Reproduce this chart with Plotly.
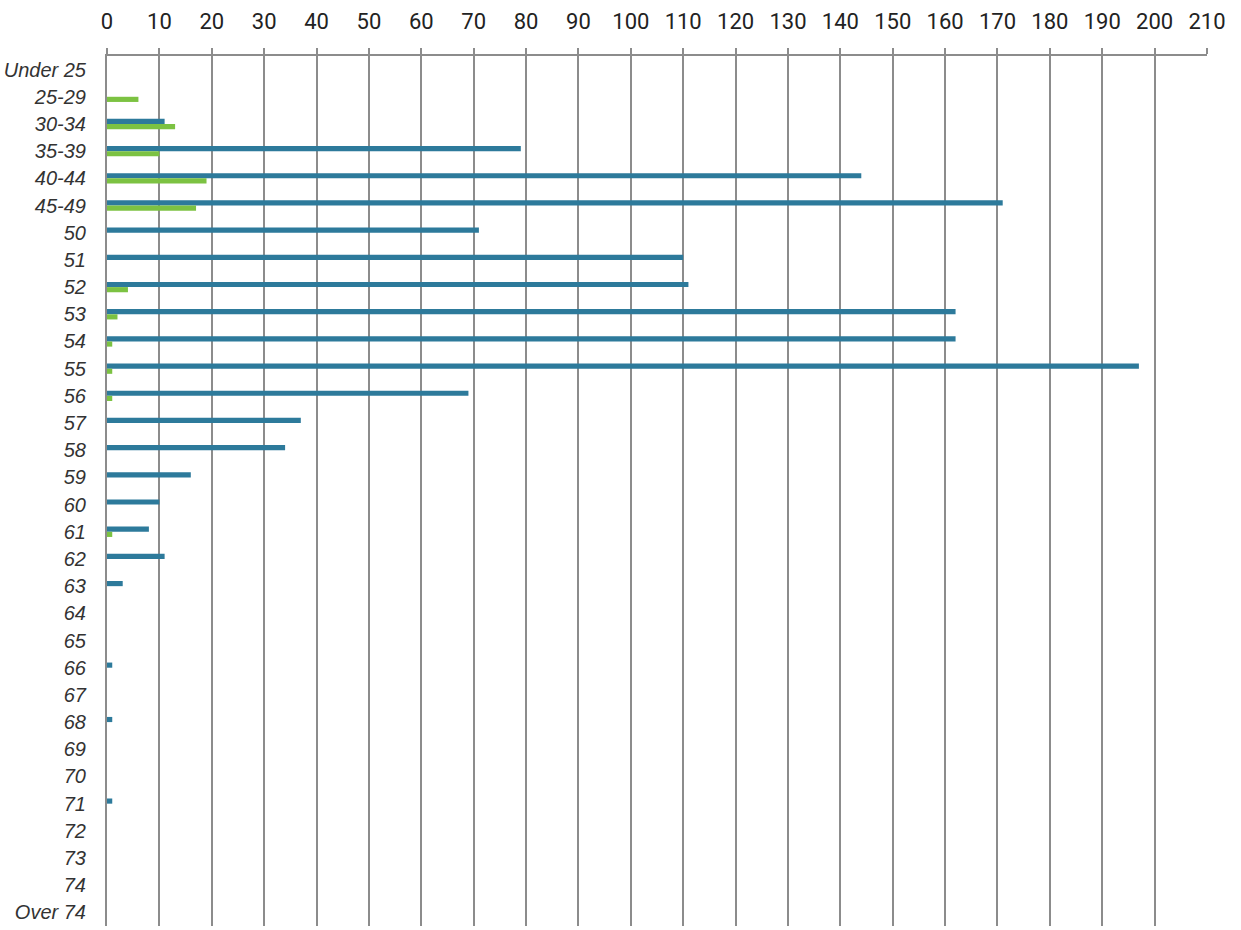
import plotly.graph_objects as go

categories = ["Under 25", "25-29", "30-34", "35-39", "40-44", "45-49", "50", "51", "52", "53",
              "54", "55", "56", "57", "58", "59", "60", "61", "62", "63", "64", "65", "66",
              "67", "68", "69", "70", "71", "72", "73", "74", "Over 74"]
blue_values = [0, 0, 11, 79, 144, 171, 71, 110, 111, 162,
               162, 197, 69, 37, 34, 16, 10, 8, 11, 3, 0, 0, 1,
               0, 1, 0, 0, 1, 0, 0, 0, 0]
green_values = [0, 6, 13, 10, 19, 17, 0, 0, 4, 2,
                1, 1, 1, 0, 0, 0, 0, 1, 0, 0, 0, 0, 0,
                0, 0, 0, 0, 0, 0, 0, 0, 0]
x_ticks = list(range(0, 211, 10))

fig = go.Figure()
fig.add_trace(go.Bar(y=categories, x=blue_values, orientation="h",
                     marker=dict(color="#2d7a9b", line=dict(width=0)), name="Series 1"))
fig.add_trace(go.Bar(y=categories, x=green_values, orientation="h",
                     marker=dict(color="#7cc242", line=dict(width=0)), name="Series 2"))

fig.update_layout(
    width=1241, height=930,
    margin=dict(l=107, r=34, t=56, b=4, autoexpand=False),
    paper_bgcolor="white", plot_bgcolor="white",
    barmode="group", bargap=0.62, bargroupgap=0,
    showlegend=False,
)
fig.update_xaxes(
    side="top", range=[0, 210], tickvals=x_ticks,
    showgrid=True, gridcolor="#8c8c8c", gridwidth=2,
    showline=True, linecolor="#8c8c8c", linewidth=2,
    ticks="outside", ticklen=6, tickcolor="#8c8c8c", tickwidth=2,
    ticklabelstandoff=10,
    tickfont=dict(family="Roboto", size=22, color="#222222"),
    zeroline=False, fixedrange=True, automargin=False,
)
fig.update_yaxes(
    autorange="reversed", type="category",
    showgrid=False, showline=True, linecolor="#8c8c8c", linewidth=2,
    ticks="", ticklabelstandoff=15,
    tickfont=dict(family="Liberation Sans, Arial", size=20, color="#333333", style="italic"),
    fixedrange=True, automargin=False,
)

fig.write_html("out.html", config={"displayModeBar": False},
               post_script="document.body.style.margin='0';")
